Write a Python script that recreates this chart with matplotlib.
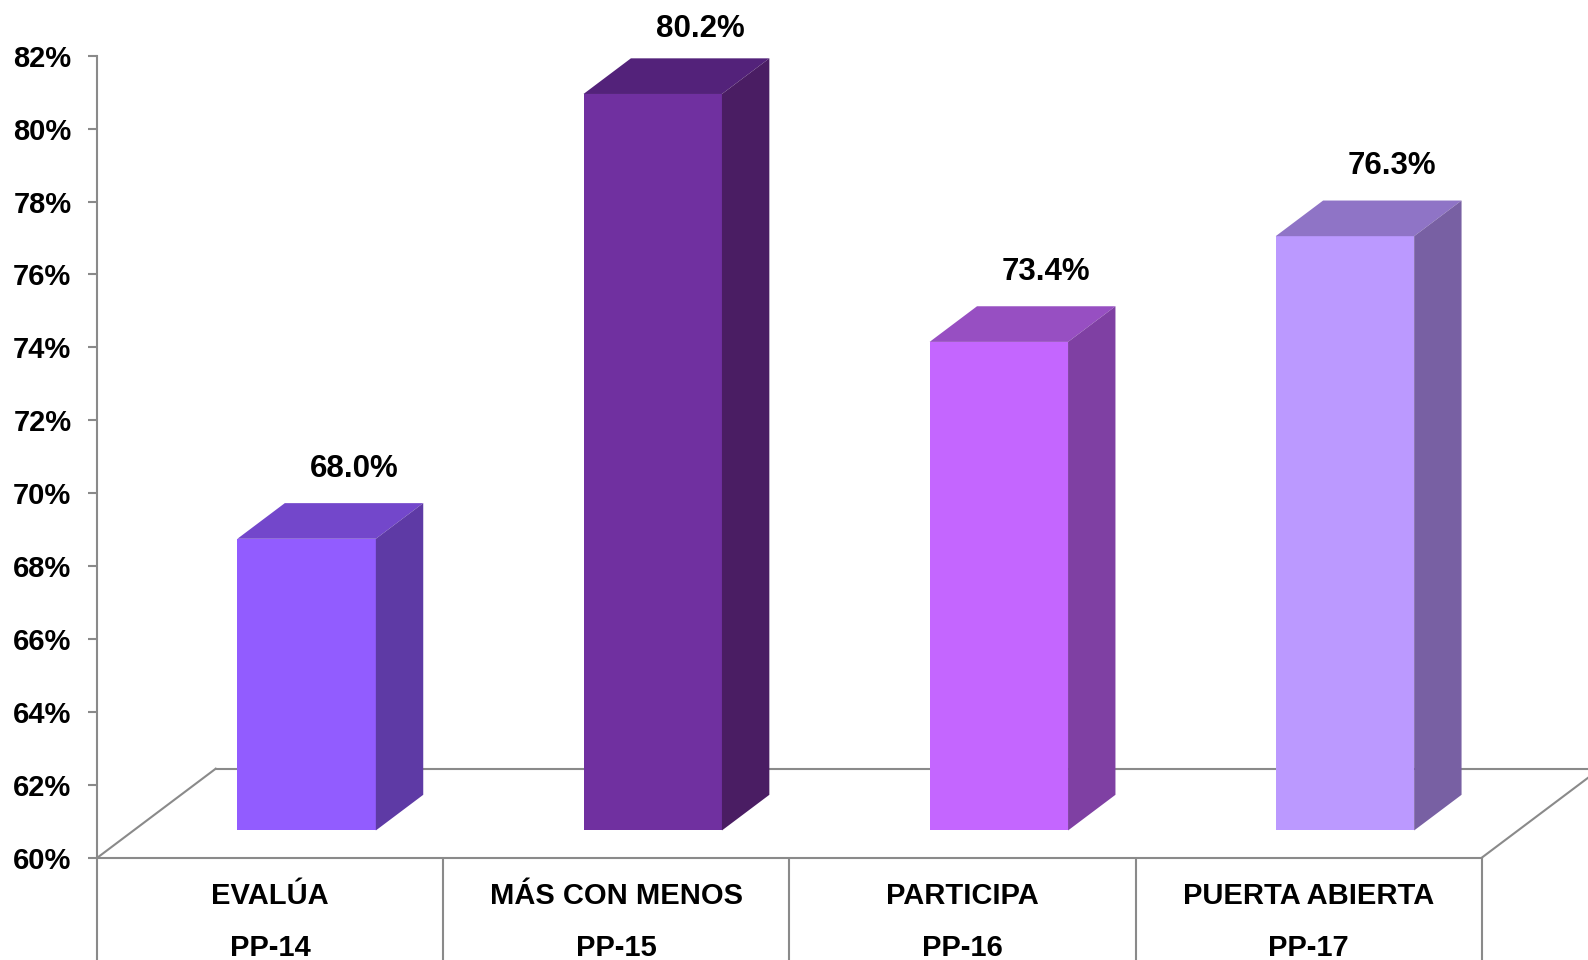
# -*- coding: utf-8 -*-
"""
Bar chart with 3-D look (Excel style) of the PP programs results.
"""

#==============================================================================
# Importations
#==============================================================================

import matplotlib
matplotlib.use('Agg')
import matplotlib.pyplot as plt
from matplotlib.patches import Polygon
import numpy as np


#==============================================================================
# Data
#==============================================================================

programs = ['EVALÚA', 'MÁS CON MENOS', 'PARTICIPA', 'PUERTA ABIERTA']
codes = ['PP-14', 'PP-15', 'PP-16', 'PP-17']
values = [68.0, 80.2, 73.4, 76.3]
yticks = [60, 62, 64, 66, 68, 70, 72, 74, 76, 78, 80, 82]

front_colors = ['#925cff', '#7030a0', '#c466ff', '#bb99ff']
top_colors = ['#7347cb', '#53227a', '#974fc2', '#8f74c6']
side_colors = ['#5e3aa5', '#4a1d63', '#7f40a3', '#7860a3']


#==============================================================================
# Geometry of the fake 3-D view (data units)
#==============================================================================

floor_dx, floor_dy = 0.3424, 2.444       # depth of the floor
front_frac, depth_frac = 0.307, 0.40     # bar position / depth in the floor
bar_width = 0.40
y_base = 60.0
y_min, y_max = 57.197, 83.528
label_gap = 0.94                         # value label above the bar top
label_max = 82.72                        # keep labels inside the chart
line_col = '#8a8a8a'

shift_x = front_frac * floor_dx
shift_y = front_frac * floor_dy
bar_dx = depth_frac * floor_dx
bar_dy = depth_frac * floor_dy


#==============================================================================
# Figure
#==============================================================================

plt.rcParams['font.family'] = ['Liberation Sans', 'DejaVu Sans']
plt.rcParams['font.weight'] = 'bold'

fig = plt.figure(figsize=(15.88, 9.6), dpi=100)
ax = fig.add_axes([0, 0, 1, 1])
ax.set_xlim(-0.7808, 3.8074)
ax.set_ylim(y_min, y_max)
ax.patch.set_visible(False)

x = np.arange(len(values))
n_cat = len(values)
left, right = -0.5, n_cat - 0.5

# floor
ax.plot([left, right], [y_base, y_base], color=line_col, lw=1.5, zorder=1)
ax.plot([left + floor_dx, right + floor_dx + 1],
        [y_base + floor_dy, y_base + floor_dy], color=line_col, lw=1.5,
        zorder=1)
for xe in (left, right):
    ax.plot([xe, xe + floor_dx], [y_base, y_base + floor_dy],
            color=line_col, lw=1.5, zorder=1)

# category cells
ax.vlines(np.arange(n_cat + 1) - 0.5, y_min - 0.2, y_base, color=line_col,
          lw=1.5, zorder=1)

# bars
heights = np.array(values) - y_base
fronts = ax.bar(x + shift_x, heights, bottom=y_base + shift_y,
                width=bar_width, color=front_colors, zorder=3)
for i, rect in enumerate(fronts):
    x0 = rect.get_x()
    x1 = x0 + rect.get_width()
    y0 = rect.get_y()
    y1 = y0 + rect.get_height()
    top = Polygon([(x0, y1), (x1, y1), (x1 + bar_dx, y1 + bar_dy),
                   (x0 + bar_dx, y1 + bar_dy)], closed=True,
                  facecolor=top_colors[i], edgecolor='none', zorder=3)
    side = Polygon([(x1, y0), (x1 + bar_dx, y0 + bar_dy),
                    (x1 + bar_dx, y1 + bar_dy), (x1, y1)], closed=True,
                   facecolor=side_colors[i], edgecolor='none', zorder=3)
    ax.add_patch(top)
    ax.add_patch(side)
    label_y = min(y1 + bar_dy + label_gap, label_max)
    ax.text(x0 + bar_width / 2 + bar_dx, label_y,
            '{:.1f}%'.format(values[i]), ha='center', va='center',
            fontsize=22.5, fontweight='bold')

# category labels
for i in range(n_cat):
    ax.text(x[i], 58.965, programs[i], ha='center', va='center',
            fontsize=21, fontweight='bold')
    ax.text(x[i], 57.53, codes[i], ha='center', va='center',
            fontsize=21, fontweight='bold')

# value axis
for s in ('top', 'right', 'bottom'):
    ax.spines[s].set_visible(False)
ax.spines['left'].set_position(('data', left))
ax.spines['left'].set_bounds(yticks[0], yticks[-1])
ax.spines['left'].set_color(line_col)
ax.spines['left'].set_linewidth(1.5)
ax.set_yticks(yticks)
ax.set_yticklabels(['{}%'.format(t) for t in yticks])
ax.tick_params(axis='y', direction='out', length=6.5, width=1.5,
               color=line_col, pad=12, labelsize=21)
ax.set_xticks([])

fig.savefig('out.png', dpi=100)
